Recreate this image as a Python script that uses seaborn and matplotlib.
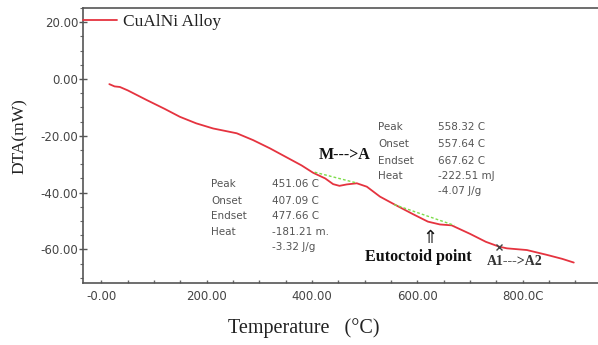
import matplotlib
matplotlib.use("Agg")
import matplotlib.pyplot as plt
import seaborn as sns
import pandas as pd
from matplotlib.ticker import FixedLocator, MultipleLocator

# ---- data ----
temperature = [15, 25, 35, 50, 86, 120, 149, 180, 212, 257, 288, 320, 350, 380, 402,
               425, 440, 452, 466, 485, 504, 529, 558, 592, 620, 643, 665, 700, 730,
               755, 770, 808, 846, 875, 897]
dta = [-1.8, -2.6, -2.8, -4.0, -7.4, -10.5, -13.3, -15.6, -17.4, -19.1, -21.5, -24.4,
       -27.4, -30.4, -33.0, -35.0, -37.0, -37.6, -37.1, -36.7, -37.9, -41.4, -44.3, -47.6,
       -50.2, -51.2, -51.5, -54.5, -57.3, -59.0, -59.6, -60.2, -61.9, -63.3, -64.6]

base1_t = [405, 485]
base1_v = [-32.8, -36.6]
base2_t = [556, 670]
base2_v = [-44.2, -51.5]

x_ticks = [0, 200, 400, 600, 800]
x_tick_labels = ["-0.00", "200.00", "400.00", "600.00", "800.0C"]
y_ticks = [20, 0, -20, -40, -60]
y_tick_labels = ["20.00", "0.00", "-20.00", "-40.00", "-60.00"]

peak_labels = ["Peak", "Onset", "Endset", "Heat"]
peak1_values = ["451.06 C", "407.09 C", "477.66 C", "-181.21 m.", "-3.32 J/g"]
peak2_values = ["558.32 C", "557.64 C", "667.62 C", "-222.51 mJ", "-4.07 J/g"]

a1a2_mark_t = [755]
a1a2_mark_v = [-59.0]

# ---- figure ----
sns.set_style("white")
plt.rcParams["font.family"] = ["DejaVu Sans"]
SERIF = ["Liberation Serif", "DejaVu Serif"]

fig = plt.figure(figsize=(5.98, 3.45), dpi=100)
ax = fig.add_axes([83 / 598, (345 - 283) / 345, 515 / 598, 275 / 345])

red = "#e5333f"
green = "#7ddc4a"

df = pd.DataFrame({"Temperature": temperature, "DTA": dta})
sns.lineplot(data=df, x="Temperature", y="DTA", color=red, linewidth=1.3,
             label="CuAlNi Alloy", ax=ax)
sns.lineplot(x=base1_t, y=base1_v, color=green, linewidth=1.0, linestyle=(0, (2, 1.5)),
             legend=False, ax=ax)
sns.lineplot(x=base2_t, y=base2_v, color=green, linewidth=1.0, linestyle=(0, (2, 1.5)),
             legend=False, ax=ax)
ax.plot(a1a2_mark_t, a1a2_mark_v, marker="x", color="#444444", markersize=5,
        markeredgewidth=1.0, linestyle="none")

ax.set_xlim(-35, 943)
ax.set_ylim(-71.8, 25)

for s in ["left", "bottom", "top"]:
    ax.spines[s].set_color("#555555")
    ax.spines[s].set_linewidth(1.2)
ax.spines["right"].set_visible(False)

ax.xaxis.set_major_locator(FixedLocator(x_ticks))
ax.set_xticklabels(x_tick_labels)
ax.xaxis.set_minor_locator(MultipleLocator(50))
ax.yaxis.set_major_locator(FixedLocator(y_ticks))
ax.set_yticklabels(y_tick_labels)
ax.yaxis.set_minor_locator(MultipleLocator(5))

ax.tick_params(axis="y", which="major", direction="inout", length=6, width=1,
               color="#555555", labelsize=8.5, labelcolor="#444444", pad=0.5, left=True)
ax.tick_params(axis="y", which="minor", direction="out", length=2.5, width=0.8,
               color="#666666", left=True)
ax.tick_params(axis="x", which="both", direction="in", length=2.5, width=1,
               color="#666666", labelsize=8.5, labelcolor="#444444", pad=5, bottom=True)
ax.tick_params(axis="x", which="both", top=False)

ax.set_xlabel("Temperature   (\u00b0C)", fontsize=14.5, family=SERIF, color="#222222")
ax.xaxis.label.set_va("center")
ax.xaxis.set_label_coords(0.429, -0.164)
ax.set_ylabel("DTA(mW)", fontsize=12.5, family=SERIF, color="#222222")
ax.yaxis.label.set_va("center")
ax.yaxis.set_label_coords(-0.122, 0.535)

leg = ax.legend(loc="center left", bbox_to_anchor=(0, (283 - 22) / 275), frameon=False,
                borderaxespad=0, borderpad=0, handlelength=1.95, handletextpad=0.35,
                prop={"family": SERIF, "size": 12.5})
for t in leg.get_texts():
    t.set_color("#222222")

# ---- annotations ----
ann = dict(fontsize=7.5, color="#555555", va="center", ha="left")
rows1 = [-36.9, -42.8, -48.2, -53.7, -59.1]
for lab, y in zip(peak_labels, rows1):
    ax.text(209, y, lab, **ann)
for val, y in zip(peak1_values, rows1):
    ax.text(323, y, val, **ann)
rows2 = [-17.0, -22.9, -28.9, -34.1, -39.4]
for lab, y in zip(peak_labels, rows2):
    ax.text(525, y, lab, **ann)
for val, y in zip(peak2_values, rows2):
    ax.text(640, y, val, **ann)

ax.text(461.7, -26.7, "M--->A", fontsize=11.5, fontweight="bold", family=SERIF,
        ha="center", va="center", color="#111111")
ax.text(601, -62.5, "Eutoctoid point", fontsize=11.5, fontweight="bold", family=SERIF,
        ha="center", va="center", color="#111111")
ax.text(784, -64.4, "A1--->A2", fontsize=10, fontweight="bold", family=SERIF,
        ha="center", va="center", color="#333333")
ax.text(624, -56, "\u21d1", fontsize=13, family=["DejaVu Sans"],
        ha="center", va="center", color="#111111")

fig.savefig("out.png", dpi=100)
